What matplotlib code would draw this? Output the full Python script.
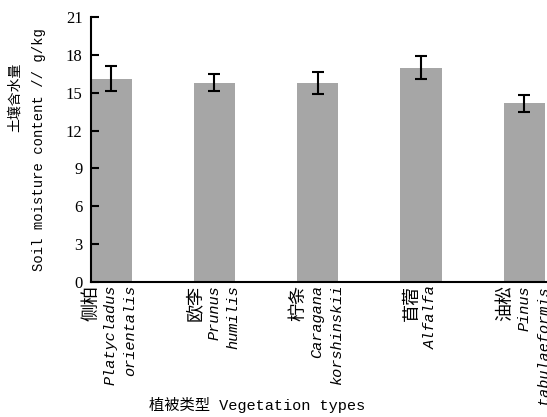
import numpy as np
import matplotlib
matplotlib.use("Agg")
from matplotlib import pyplot as plt
from matplotlib.transforms import ScaledTranslation, blended_transform_factory

cn_names = ["侧柏", "欧李", "柠条", "苜蓿", "油松"]
latin_names = [["Platycladus", "orientalis"], ["Prunus", "humilis"],
               ["Caragana", "korshinskii"], ["Alfalfa"], ["Pinus", "tabulaeformis"]]
moisture = [16.1, 15.8, 15.75, 17.0, 14.15]
moisture_err = [1.0, 0.65, 0.87, 0.92, 0.7]
yticks = [0, 3, 6, 9, 12, 15, 18, 21]

cjk = "Noto Sans CJK SC"

fig = plt.figure(figsize=(5.47, 4.17), dpi=100)
ax = fig.add_axes([0.166, 0.324, 0.834, 0.635])

x = np.arange(len(moisture))
ax.bar(x, moisture, 0.4, color="#a6a6a6", zorder=1)
ax.errorbar(x, moisture, yerr=moisture_err, fmt="none", ecolor="black",
            elinewidth=1.5, capsize=4, capthick=1.5, zorder=2)

ax.set_xlim(-0.194, 4.22)
ax.set_ylim(0, 21)
ax.set_yticks(yticks)
ax.set_yticklabels([str(v) for v in yticks], family="Liberation Serif", fontsize=12)
ax.tick_params(axis="y", direction="in", length=6, width=1.5, pad=6)
ax.set_xticks([])
for s in ["top", "right"]:
    ax.spines[s].set_visible(False)
for s in ["left", "bottom"]:
    ax.spines[s].set_linewidth(1.5)

# x labels: chinese name + italic latin name, one column per line
trans = blended_transform_factory(ax.transData, ax.transAxes)
step = 19  # px between columns
for i in range(len(cn_names)):
    lines = [cn_names[i]] + latin_names[i]
    n = len(lines)
    for k, line in enumerate(lines):
        dx = (k - (n - 1) / 2) * step
        t = trans + ScaledTranslation(dx / 100, -3 / 100, fig.dpi_scale_trans)
        if k == 0:
            ax.text(i, 0, line, transform=t, rotation=90, ha="center", va="top",
                    family=[cjk], fontsize=13, clip_on=False)
        else:
            ax.text(i, 0, line, transform=t, rotation=90, ha="center", va="top",
                    family="Liberation Mono", style="italic", fontsize=11,
                    clip_on=False)

fig.text(257 / 547, 1 - 405 / 417, "植被类型 Vegetation types", ha="center",
         va="center", family=["Liberation Mono", cjk], fontsize=11)

fig.text(15 / 547, 1 - 97 / 417, "土壤含水量", rotation=90, ha="center",
         va="center", family=[cjk], fontsize=10)
fig.text(39 / 547, 1 - 150 / 417, "Soil moisture content // g/kg", rotation=90,
         ha="center", va="center", family="Liberation Mono", fontsize=10)

fig.savefig("out.png", dpi=100)
